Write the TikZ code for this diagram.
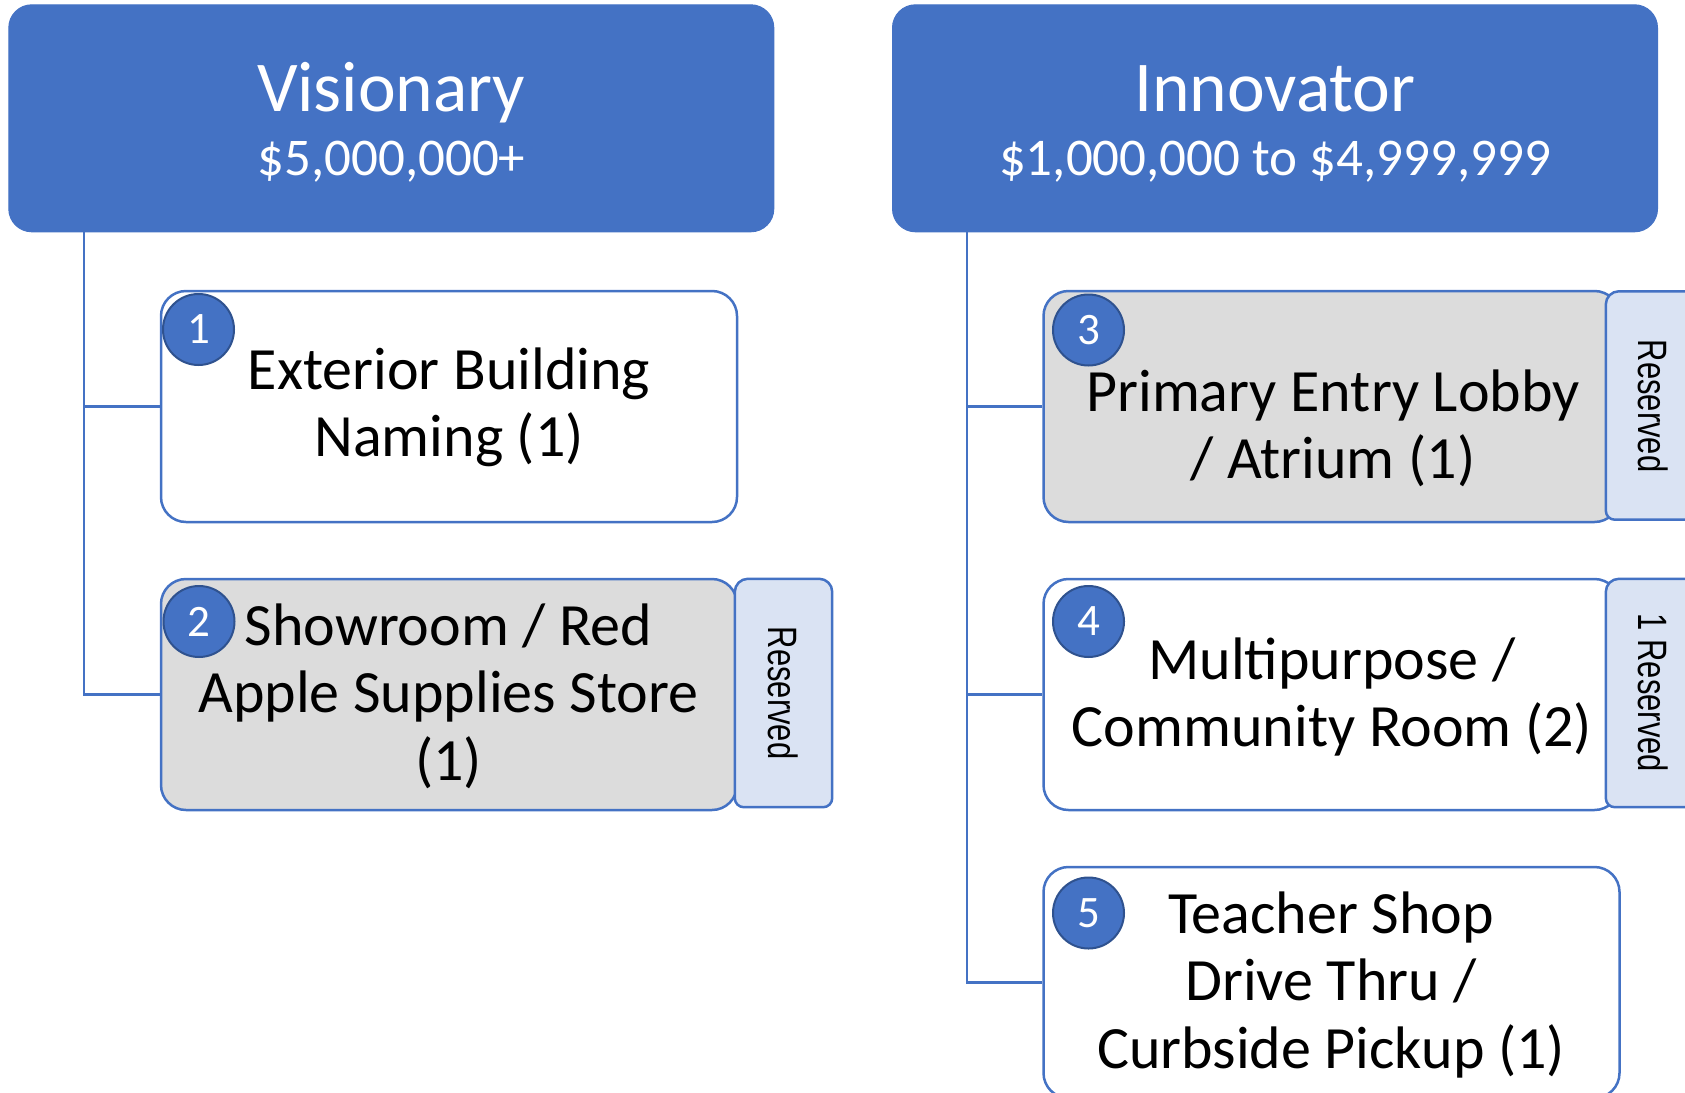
\documentclass[tikz,border=0pt]{standalone}
\usepackage{fontspec}
\setmainfont{Carlito}
\newfontfamily\tabfont{Liberation Sans}
\definecolor{accent}{HTML}{4472C4}
\definecolor{accentdark}{HTML}{2F528F}
\definecolor{boxgray}{HTML}{DCDCDC}
\definecolor{tabblue}{HTML}{DAE3F3}
\tikzset{
  header/.style={fill=accent, draw=accent, line width=1pt, rounded corners=23pt,
    minimum width=765pt, minimum height=227pt, inner sep=0pt},
  htitle/.style={text=white, font=\fontsize{71.5}{85}\selectfont, inner sep=0pt},
  hsub/.style={text=white, font=\fontsize{53}{64}\selectfont, inner sep=0pt},
  itembox/.style={draw=accent, line width=2.5pt, rounded corners=25pt, fill=white,
    minimum width=576pt, minimum height=231pt, inner sep=0pt},
  grayfill/.style={fill=boxgray},
  itemtext/.style={font=\fontsize{60}{67.5}\selectfont, inner sep=0pt},
  badge/.style={circle, fill=accent, draw=accentdark, line width=2pt, minimum size=71pt,
    inner sep=0pt, text=white, font=\fontsize{45}{54}\selectfont},
  tabgeom/.style={minimum width=97pt, minimum height=228pt, inner sep=0pt},
  tabshape/.style={fill=tabblue, draw=accent, line width=2.5pt},
  tabtext/.style={rotate=-90, font=\tabfont\fontsize{41}{49}\selectfont, inner sep=0pt},
  conn/.style={draw=accent, line width=2.5pt},
}
\begin{document}
\begin{tikzpicture}[x=1pt,y=-1pt]
\useasboundingbox (0,0) rectangle (1685,1092);
\clip (0,0) rectangle (1685,1092);

% headers
\node[header] (vis) at (391.3,118.3) {};
\node[header] (inn) at (1275,118.3) {};
\node[htitle, anchor=base] (vist) at (391.3,111) {Visionary};
\node[hsub, anchor=base] (viss) at (391.3,175) {\$5,000,000+};
\node[htitle, anchor=base] (innt) at (1275,111) {Innovator};
\node[hsub, anchor=base] (inns) at (1275,175) {\$1,000,000 to \$4,999,999};

% trunk positions
\coordinate (lt) at (84,0);
\coordinate (rt) at (967,0);

% boxes
\node[itembox] (box1) at (449,406.5) {};
\node[itembox, grayfill] (box2) at (449,694.5) {};
\node[itembox, grayfill] (box3) at (1331.5,406.5) {};
\node[itembox] (box4) at (1331.5,694.5) {};
\node[itembox] (box5) at (1331.5,982.5) {};

% connectors
\draw[conn] (vis.south -| lt) |- (box1.west);
\draw[conn] (vis.south -| lt) |- (box2.west);
\draw[conn] (inn.south -| rt) |- (box3.west);
\draw[conn] (inn.south -| rt) |- (box4.west);
\draw[conn] (inn.south -| rt) |- (box5.west);

% tabs
\node[tabgeom] (tab2) at (783.5,693) {};
\node[tabgeom] (tab3) at (1654.5,405.5) {};
\node[tabgeom] (tab4) at (1654.5,693) {};
\foreach \t in {tab2,tab3,tab4}{
  \filldraw[tabshape] (\t.south east) [rounded corners=13pt] -- (\t.north east)
     -- (\t.north west) [rounded corners=9pt] -- (\t.south west) -- cycle;
}
\node[tabtext] (tab2t) at (783.5,693) {\scalebox{0.755}[1]{Reserved}};
\node[tabtext] (tab3t) at (1653,406) {\scalebox{0.755}[1]{Reserved}};
\node[tabtext] (tab4t) at (1653.5,693) {\scalebox{0.755}[1]{1 Reserved}};

% box texts
\node[itemtext, anchor=base] (t1) at (449,389)
  {\begin{tabular}[t]{@{}c@{}}Exterior Building\\Naming (1)\end{tabular}};
\node[itemtext, anchor=base] (t2) at (448.5,645)
  {\begin{tabular}[t]{@{}c@{}}Showroom / Red\\Apple Supplies Store\\(1)\end{tabular}};
\node[itemtext, anchor=base] (t3) at (1333,411)
  {\begin{tabular}[t]{@{}c@{}}Primary Entry Lobby\\/ Atrium (1)\end{tabular}};
\node[itemtext, anchor=base] (t4) at (1332,679)
  {\begin{tabular}[t]{@{}c@{}}Multipurpose /\\Community Room (2)\end{tabular}};
\node[itemtext, anchor=base] (t5) at (1331,933)
  {\begin{tabular}[t]{@{}c@{}}Teacher Shop\\Drive Thru /\\Curbside Pickup (1)\end{tabular}};

% badges
\node[badge] (b1) at (198.5,329.5) {1};
\node[badge] (b2) at (199,621.5) {2};
\node[badge] (b3) at (1088.5,330) {3};
\node[badge] (b4) at (1088.5,621.5) {4};
\node[badge] (b5) at (1088.5,913) {5};
\end{tikzpicture}
\end{document}
